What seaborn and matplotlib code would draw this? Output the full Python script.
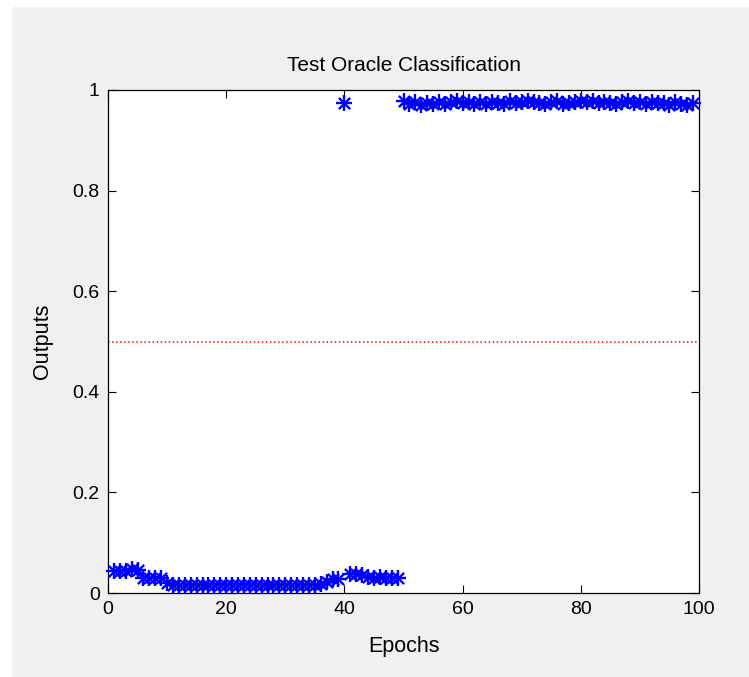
import numpy as np
import pandas as pd
import matplotlib
matplotlib.use("Agg")
import matplotlib.pyplot as plt
import seaborn as sns

# Datos
epochs = list(range(1, 100))
low_start = [0.043, 0.043, 0.044, 0.047, 0.045,
             0.030, 0.029, 0.029, 0.030, 0.020]
low_mid = [0.015] * 25
low_end = [0.017, 0.022, 0.027, 0.028]
epoch40 = [0.975]
low_after = [0.038, 0.038, 0.036, 0.031, 0.030, 0.031, 0.030, 0.029, 0.030]
high = [0.978, 0.972, 0.976, 0.970, 0.975, 0.973, 0.977, 0.972, 0.976, 0.978,
        0.974, 0.977, 0.973, 0.976, 0.972, 0.977, 0.975, 0.973, 0.978, 0.974,
        0.976, 0.979, 0.977, 0.975, 0.972, 0.976, 0.978, 0.973, 0.975, 0.977,
        0.978, 0.976, 0.979, 0.974, 0.977, 0.975, 0.973, 0.976, 0.978, 0.974,
        0.976, 0.972, 0.977, 0.974, 0.975, 0.971, 0.976, 0.973, 0.970, 0.974]
outputs = low_start + low_mid + low_end + epoch40 + low_after + high
threshold = 0.5

df = pd.DataFrame({"Epochs": epochs, "Outputs": outputs})

plt.rcParams['font.family'] = ['Liberation Sans', 'DejaVu Sans']

fig = plt.figure(figsize=(7.49, 6.77), dpi=100, facecolor='#f0f0f0')
# borde blanco de la captura
fig.patches.append(plt.Rectangle((0, 0), 11 / 749, 1, transform=fig.transFigure,
                                 color='white', zorder=-1))
fig.patches.append(plt.Rectangle((0, 1 - 6 / 677), 1, 6 / 677, transform=fig.transFigure,
                                 color='white', zorder=-1))
ax = fig.add_axes([108 / 749, 84 / 677, 591 / 749, 503 / 677])
ax.set_facecolor('white')

sns.scatterplot(data=df, x="Epochs", y="Outputs", marker='+', s=120,
                color=(0, 0, 1), linewidth=1.7, ax=ax, zorder=3, clip_on=False)
sns.scatterplot(data=df, x="Epochs", y="Outputs", marker='x', s=65,
                color=(0, 0, 1), linewidth=1.7, ax=ax, zorder=3, clip_on=False)
ax.plot([0, 100], [threshold, threshold], color='red', linestyle=':', linewidth=1.1)

ax.set_xlim(0, 100)
ax.set_ylim(0, 1)
ax.set_xticks([0, 20, 40, 60, 80, 100])
ax.set_yticks([0, 0.2, 0.4, 0.6, 0.8, 1])
ax.set_yticklabels(['0', '0.2', '0.4', '0.6', '0.8', '1'])
ax.tick_params(direction='in', top=True, right=True, length=6, width=0.8,
               labelsize=14, colors='black', pad=6)
for sp in ax.spines.values():
    sp.set_linewidth(0.9)
    sp.set_color('black')

ax.set_title("Test Oracle Classification", fontsize=15, pad=14)
ax.set_xlabel("Epochs", fontsize=15.5, labelpad=13)
ax.set_ylabel("Outputs", fontsize=15.5, labelpad=14)

fig.savefig("out.png", dpi=100, facecolor=fig.get_facecolor())
